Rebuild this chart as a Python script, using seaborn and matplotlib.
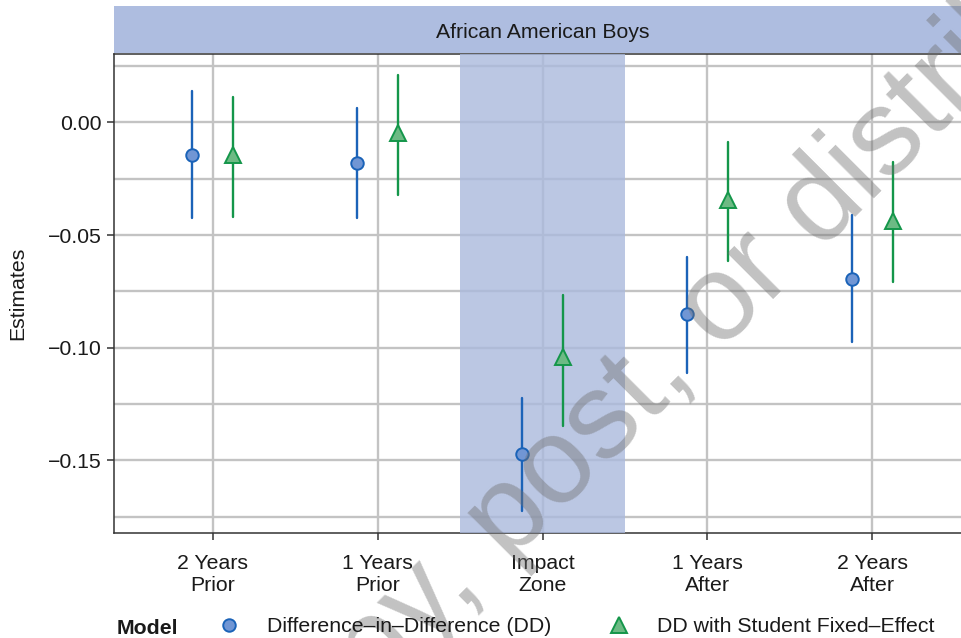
import numpy as np
import pandas as pd
import matplotlib
matplotlib.use("Agg")
import matplotlib.pyplot as plt
from matplotlib.lines import Line2D
from matplotlib.ticker import FuncFormatter, FixedLocator
import seaborn as sns

# ---- data -------------------------------------------------------------
periods = ["2 Years\nPrior", "1 Years\nPrior", "Impact\nZone", "1 Years\nAfter", "2 Years\nAfter"]
models = ["Difference\u2013in\u2013Difference (DD)", "DD with Student Fixed\u2013Effect"]

dd_est = [-0.0143, -0.0180, -0.1472, -0.0850, -0.0693]
dd_lo = [-0.0423, -0.0426, -0.1724, -0.1110, -0.0974]
dd_hi = [0.0141, 0.0065, -0.1225, -0.0598, -0.0410]

fe_est = [-0.0146, -0.0049, -0.1040, -0.0345, -0.0436]
fe_lo = [-0.0419, -0.0321, -0.1345, -0.0613, -0.0710]
fe_hi = [0.0112, 0.0209, -0.0765, -0.0085, -0.0176]

highlight = "Impact\nZone"
panel_title = "African American Boys"

line_colors = ["#1B63B8", "#14964A"]
fill_colors = ["#7196D4", "#6DBA84"]
marker_shapes = ["o", "^"]

# long form: lower bound, estimate and upper bound for every period/model
rows = []
for model, est, lo, hi in [(models[0], dd_est, dd_lo, dd_hi),
                           (models[1], fe_est, fe_lo, fe_hi)]:
    for p, e, l, h in zip(periods, est, lo, hi):
        for v in (l, e, h):
            rows.append({"period": p, "model": model, "value": v})
df = pd.DataFrame(rows)

# ---- style ------------------------------------------------------------
sns.set_theme(style="white")
plt.rcParams["font.family"] = ["Liberation Sans", "DejaVu Sans"]
plt.rcParams["axes.unicode_minus"] = True

W, H = 961, 638
fig = plt.figure(figsize=(W / 100, H / 100), dpi=100)
ax = fig.add_axes([114 / W, 1 - 532.7 / H, 857 / W, 479.2 / H])

grid_c = "#C3C3C3"
dark = "#333333"
txt = "#1A1A1A"
FS = 15.3

sns.pointplot(
    data=df, x="period", y="value", hue="model",
    order=periods, hue_order=models,
    estimator="median", errorbar=lambda v: (v.min(), v.max()),
    dodge=0.25, markers=marker_shapes, linestyles="none",
    palette=line_colors, err_kws={"linewidth": 1.7},
    markersize=9, markeredgewidth=1.4,
    legend=False, ax=ax,
)

# points above their interval lines, filled with a lighter tint
for line in ax.lines:
    m = line.get_marker()
    if m in marker_shapes:
        i = marker_shapes.index(m)
        line.set_markerfacecolor(fill_colors[i])
        line.set_markeredgecolor(line_colors[i])
        if m == "^":
            line.set_markersize(11)
        line.set_zorder(4)
    else:
        line.set_zorder(3)

# shaded impact period
k = periods.index(highlight)
ax.axvspan(k - 0.5, k + 0.5, color="#AAB9DD", alpha=0.8, lw=0, zorder=2.6)

# limits with 5% padding on y, 0.6 on the discrete x axis
lo_all = min(dd_lo + fe_lo)
hi_all = max(dd_hi + fe_hi)
pad = 0.05 * (hi_all - lo_all)
ax.set_ylim(lo_all - pad, hi_all + pad)
ax.set_xlim(-0.6, len(periods) - 1 + 0.6)

ax.yaxis.set_major_locator(FixedLocator([0.0, -0.05, -0.10, -0.15]))
ax.yaxis.set_minor_locator(FixedLocator([0.025, -0.025, -0.075, -0.125, -0.175]))
ax.yaxis.set_major_formatter(FuncFormatter(lambda v, _: f"{v:.2f}".replace("-", "\u2212")))

ax.set_axisbelow(True)
ax.grid(which="both", axis="y", color=grid_c, lw=1.7)
ax.grid(which="major", axis="x", color=grid_c, lw=1.7)

ax.tick_params(axis="both", which="major", length=5, width=1.1, color=dark,
               labelsize=FS, labelcolor=txt, left=True, bottom=True)
ax.tick_params(axis="y", which="major", pad=4)
ax.tick_params(axis="x", which="major", pad=10)
ax.tick_params(which="minor", length=0)
for lab in ax.get_xticklabels():
    lab.set_linespacing(1.25)

for side in ["left", "bottom", "top"]:
    ax.spines[side].set_visible(True)
    ax.spines[side].set_color(dark)
    ax.spines[side].set_linewidth(1.1)
ax.spines["right"].set_visible(False)

ax.set_xlabel("")
ax.set_ylabel("Estimates", fontsize=FS, color=txt)
ax.yaxis.set_label_coords(-0.1015, 0.5)

# facet strip
sax = fig.add_axes([114 / W, 1 - 53.3 / H, 857 / W, 47.3 / H])
sax.set_facecolor("#AEBDE0")
sax.set_xticks([])
sax.set_yticks([])
for s in sax.spines.values():
    s.set_visible(False)
sax.text(0.5, 0.45, panel_title, ha="center", va="center", fontsize=FS, color=txt,
         transform=sax.transAxes)

# legend along the bottom
handles = [
    Line2D([], [], ls="none", marker=marker_shapes[i], markersize=9 if i == 0 else 11,
           markerfacecolor=fill_colors[i], markeredgecolor=line_colors[i],
           markeredgewidth=1.4)
    for i in range(2)
]
fig.legend(handles, models, loc="center left",
           bbox_to_anchor=(218.6 / W, 1 - 627 / H), ncol=2, frameon=False,
           fontsize=FS, handlelength=1.0, handletextpad=1.3, columnspacing=2.66,
           borderpad=0, borderaxespad=0, labelcolor=txt)
fig.text(117 / W, 1 - 628 / H, "Model", fontsize=FS, fontweight="bold",
         color=txt, ha="left", va="center")

# distribution watermark
fig.text(5 / W, 1 - 1067 / H, "Do not copy, post, or distribute", fontsize=88,
         color="#6E6E6E", alpha=0.42, rotation=45, rotation_mode="anchor",
         ha="left", va="baseline")

fig.savefig("out.png", dpi=100)
